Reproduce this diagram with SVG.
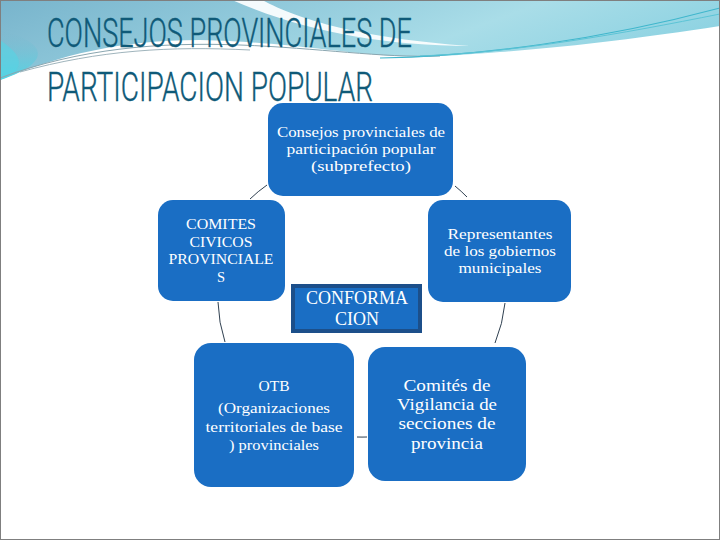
<svg xmlns="http://www.w3.org/2000/svg" width="720" height="540" viewBox="0 0 720 540">
<defs>
<linearGradient id="band" x1="0" y1="0" x2="1" y2="0.3">
<stop offset="0" stop-color="#78b4cc"/>
<stop offset="0.35" stop-color="#8fc8da"/>
<stop offset="0.7" stop-color="#a9dde8"/>
<stop offset="1" stop-color="#8fd3e2"/>
</linearGradient>
<linearGradient id="leftcyan" x1="0" y1="0" x2="0" y2="1">
<stop offset="0" stop-color="#7ab6cc" stop-opacity="0"/>
<stop offset="1" stop-color="#4fd6e6"/>
</linearGradient>
</defs>
<style>
.node{fill:#1a6ec4;}
.t{font-family:"Liberation Serif","DejaVu Serif",serif;fill:#ffffff;text-anchor:middle;}
.conn{fill:none;stroke:#2f4050;stroke-width:1;}
.title{font-family:Roboto,"Liberation Sans",sans-serif;font-weight:300;fill:#0f5a78;font-size:41px;stroke:#0f5a78;stroke-width:0.4;}
</style>
<rect x="0" y="0" width="720" height="540" fill="#ffffff"/>
<g id="decoration">
<path d="M0,0 H720 V26 C640,38 580,46 500,52 C450,56 420,58 380,55 C320,50 280,42 200,40 C120,40 60,55 0,80 Z" fill="url(#band)"/>
<path d="M0,30 C40,40 60,60 0,80 Z" fill="url(#leftcyan)"/>
<path d="M0,40 C30,60 20,72 0,80 Z" fill="#55d4e4" opacity="0.6"/>
<path d="M232,0 H262 C300,20 360,38 470,46 C380,46 300,30 232,0 Z" fill="#ffffff" opacity="0.9"/>
<path d="M0,78 C80,48 160,42 240,45 C320,48 380,58 440,56" fill="none" stroke="#8aa6b0" stroke-width="1"/>
<path d="M20,72 C100,50 170,46 250,50" fill="none" stroke="#9fb4bc" stroke-width="1"/>
<path d="M380,58 C480,56 600,40 720,8" fill="none" stroke="#3fb6cc" stroke-width="1.2"/>
<path d="M420,56 C520,52 620,34 720,14" fill="none" stroke="#5cc4d6" stroke-width="1"/>
</g>
<g id="title">
<text class="title" x="47" y="47" textLength="365" lengthAdjust="spacingAndGlyphs">CONSEJOS PROVINCIALES DE</text>
<text class="title" x="47" y="101" textLength="326" lengthAdjust="spacingAndGlyphs">PARTICIPACION POPULAR</text>
</g>
<g id="connectors">
<path class="conn" d="M250,199 A144,144 0 0 1 267,185"/>
<path class="conn" d="M455,186 A144,144 0 0 1 467,197"/>
<path class="conn" d="M505,303 A144,144 0 0 1 495,343"/>
<path class="conn" d="M367,437 A144,144 0 0 1 357,437"/>
<path class="conn" d="M225,342 A144,144 0 0 1 218,302"/>
</g>
<g id="node-consejos">
<rect class="node" x="268" y="103" width="185" height="93" rx="15"/>
<text class="t" font-size="14.5" x="361" y="137" textLength="168" lengthAdjust="spacingAndGlyphs">Consejos provinciales de</text>
<text class="t" font-size="14.5" x="361" y="154" textLength="149" lengthAdjust="spacingAndGlyphs">participación popular</text>
<text class="t" font-size="14.5" x="361" y="171" textLength="100" lengthAdjust="spacingAndGlyphs">(subprefecto)</text>
</g>
<g id="node-comites">
<rect class="node" x="158" y="200" width="127" height="101" rx="15"/>
<text class="t" font-size="14.5" x="221" y="229" textLength="70" lengthAdjust="spacingAndGlyphs">COMITES</text>
<text class="t" font-size="14.5" x="221" y="247" textLength="63" lengthAdjust="spacingAndGlyphs">CIVICOS</text>
<text class="t" font-size="14.5" x="221" y="264" textLength="105" lengthAdjust="spacingAndGlyphs">PROVINCIALE</text>
<text class="t" font-size="14.5" x="221" y="282">S</text>
</g>
<g id="node-representantes">
<rect class="node" x="428" y="200" width="143" height="102" rx="15"/>
<text class="t" font-size="14.5" x="500" y="239" textLength="105" lengthAdjust="spacingAndGlyphs">Representantes</text>
<text class="t" font-size="14.5" x="500" y="256" textLength="112" lengthAdjust="spacingAndGlyphs">de los gobiernos</text>
<text class="t" font-size="14.5" x="500" y="273" textLength="83" lengthAdjust="spacingAndGlyphs">municipales</text>
</g>
<g id="node-conformacion">
<rect x="293" y="286" width="127" height="45" fill="#1a6ec4" stroke="#1c4f8a" stroke-width="4"/>
<text class="t" font-size="18" x="357" y="304" textLength="102" lengthAdjust="spacingAndGlyphs">CONFORMA</text>
<text class="t" font-size="18" x="357" y="325">CION</text>
</g>
<g id="node-otb">
<rect class="node" x="194" y="343" width="160" height="144" rx="17"/>
<text class="t" font-size="15" x="274" y="391" textLength="31" lengthAdjust="spacingAndGlyphs">OTB</text>
<text class="t" font-size="15" x="274" y="413" textLength="112" lengthAdjust="spacingAndGlyphs">(Organizaciones</text>
<text class="t" font-size="15" x="274" y="432" textLength="137" lengthAdjust="spacingAndGlyphs">territoriales de base</text>
<text class="t" font-size="15" x="274" y="450" textLength="90" lengthAdjust="spacingAndGlyphs">) provinciales</text>
</g>
<g id="node-comites-vigilancia">
<rect class="node" x="368" y="347" width="158" height="134" rx="17"/>
<text class="t" font-size="16" x="447" y="391" textLength="87" lengthAdjust="spacingAndGlyphs">Comités de</text>
<text class="t" font-size="16" x="447" y="410" textLength="100" lengthAdjust="spacingAndGlyphs">Vigilancia de</text>
<text class="t" font-size="16" x="447" y="429" textLength="97" lengthAdjust="spacingAndGlyphs">secciones de</text>
<text class="t" font-size="16" x="447" y="449" textLength="72" lengthAdjust="spacingAndGlyphs">provincia</text>
</g>
<rect x="0.5" y="0.5" width="719" height="539" fill="none" stroke="#7f7f7f" stroke-width="1"/>
</svg>
